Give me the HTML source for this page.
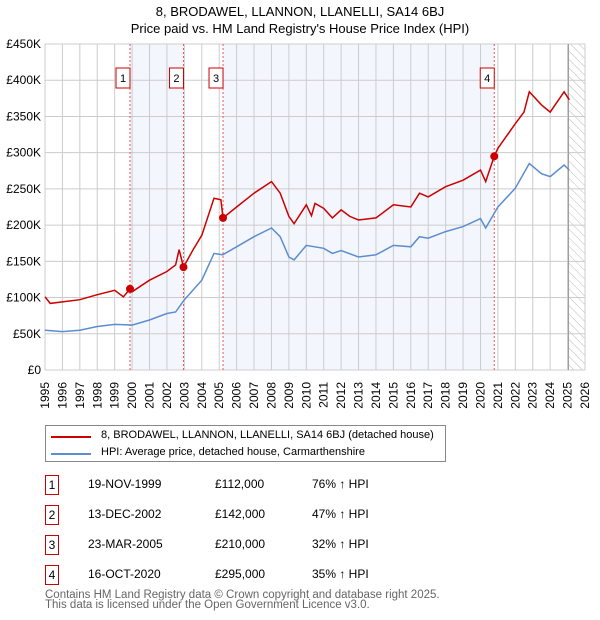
<!DOCTYPE html>
<html><head><meta charset="utf-8"><style>
body{margin:0;background:#fff;font-family:"Liberation Sans","DejaVu Sans",sans-serif}
#wrap{position:relative;width:600px;height:620px}
.t{position:absolute;font-size:13px;color:#000}
.row{position:absolute;font-size:12px;color:#000}
.bx{position:absolute;width:14px;height:20px;border:1px solid #c00;font-size:12px;text-align:center;line-height:18px;box-sizing:border-box}
</style></head><body><div id="wrap">
<div class="t" style="left:0;width:600px;text-align:center;top:3px;line-height:17px">8, BRODAWEL, LLANNON, LLANELLI, SA14 6BJ<br>Price paid vs. HM Land Registry's House Price Index (HPI)</div>
<svg id="ch" width="600" height="420" style="position:absolute;left:0;top:0"></svg>
<div style="position:absolute;left:45px;top:425px;width:401px;height:37px;border:1px solid #888;box-sizing:border-box;font-size:11px">
<div style="position:absolute;left:5px;top:10px;width:40px;height:2px;background:#c00"></div>
<div style="position:absolute;left:55px;top:3px;white-space:nowrap">8, BRODAWEL, LLANNON, LLANELLI, SA14 6BJ (detached house)</div>
<div style="position:absolute;left:5px;top:27px;width:40px;height:2px;background:#5b8dd0"></div>
<div style="position:absolute;left:55px;top:20px;white-space:nowrap">HPI: Average price, detached house, Carmarthenshire</div>
</div>
<div id="tbl"></div>
<div style="position:absolute;left:45px;top:590px;font-size:11.5px;color:#666;line-height:10px">Contains HM Land Registry data © Crown copyright and database right 2025.<br>This data is licensed under the Open Government Licence v3.0.</div>
</div>
<script>
const hpiYears=[1995,1996,1997,1998,1999,2000,2001,2002,2002.5,2003,2004,2004.7,2005.2,2006,2007,2008,2008.5,2009,2009.3,2010,2011,2011.5,2012,2013,2014,2015,2016,2016.5,2017,2018,2019,2020,2020.3,2021,2022,2022.8,2023.5,2024,2024.8,2025.1];
const hpiValues=[55,53,55,60,63,62,69,78,80,97,124,161,159,170,184,196,184,156,152,172,168,161,165,156,159,172,170,184,182,191,198,209,196,225,251,285,271,267,283,276];
const propYears=[1995,1995.3,1996,1997,1998,1999,1999.5,1999.88,2000,2001,2002,2002.5,2002.7,2002.95,2003.5,2004,2004.7,2005.1,2005.22,2006,2007,2008,2008.5,2009,2009.3,2010,2010.3,2010.5,2011,2011.5,2012,2012.5,2013,2014,2015,2016,2016.5,2017,2018,2019,2020,2020.3,2020.79,2021,2022,2022.5,2022.8,2023.5,2024,2024.8,2025.1];
const propValues=[101,92,94,97,104,110,101,112,108,124,136,145,166,142,166,186,237,235,210,225,244,260,244,212,202,228,213,230,223,210,221,212,207,210,228,225,244,239,253,262,276,260,295,306,340,356,384,366,356,384,373];
const saleLabels=["1","2","3","4"];
const saleYears=[1999.88,2002.95,2005.22,2020.79];
const saleValues=[112,142,210,295];
const saleDates=["19-NOV-1999","13-DEC-2002","23-MAR-2005","16-OCT-2020"];
const salePrices=["£112,000","£142,000","£210,000","£295,000"];
const saleHpi=["76% ↑ HPI","47% ↑ HPI","32% ↑ HPI","35% ↑ HPI"];
const yTicks=[0,50,100,150,200,250,300,350,400,450];
const yTickLabels=["£0","£50K","£100K","£150K","£200K","£250K","£300K","£350K","£400K","£450K"];
const xStart=1995,xEnd=2026,futureStart=2025.05;
const X=y=>45+(y-xStart)*(540/(xEnd-xStart));
const Y=v=>370-v*(326/450);
const s=document.getElementById('ch');const NS='http://www.w3.org/2000/svg';
function mk(t,a,p){const e=document.createElementNS(NS,t);for(const k in a)e.setAttribute(k,a[k]);(p||s).appendChild(e);return e;}
const defs=mk('defs',{});const pat=mk('pattern',{id:'h',width:6,height:6,patternUnits:'userSpaceOnUse',patternTransform:'rotate(-45)'},defs);
mk('line',{x1:0,y1:0,x2:0,y2:6,stroke:'#bbb','stroke-width':1},pat);
let r=mk('rect',{x:X(saleYears[0]),y:Y(450),width:X(saleYears[1])-X(saleYears[0]),height:Y(0)-Y(450),fill:'#eef3fc',opacity:0.7});

r=mk('rect',{x:X(saleYears[2]),y:Y(450),width:X(saleYears[3])-X(saleYears[2]),height:Y(0)-Y(450),fill:'#eef3fc',opacity:0.7});

r=mk('rect',{x:X(futureStart),y:Y(450),width:X(xEnd)-X(futureStart),height:Y(0)-Y(450),fill:'url(#h)'});

for(let y=xStart;y<=xEnd;y++){const l=mk('line',{x1:X(y),x2:X(y),y1:Y(450),y2:Y(0),stroke:'#ccc'});

const t=mk('text',{x:0,y:0,transform:`translate(${(X(y)+4).toFixed(1)},${Y(0)+12}) rotate(-90)`,'text-anchor':'end','font-size':12});t.textContent=y;
}
yTicks.forEach((v,i)=>{const l=mk('line',{x1:X(xStart),x2:X(xEnd),y1:Y(v),y2:Y(v),stroke:'#ccc'});

const t=mk('text',{x:41,y:Y(v)+4,'text-anchor':'end','font-size':12});t.textContent=yTickLabels[i];
});
let fl=mk('line',{x1:X(futureStart),x2:X(futureStart),y1:Y(450),y2:Y(0),stroke:'#999'});

saleYears.forEach((yr,i)=>{const l=mk('line',{x1:X(yr),x2:X(yr),y1:Y(450),y2:Y(0),stroke:'#e55','stroke-dasharray':'2,2'});

const b=mk('rect',{x:X(yr)-14,y:68,width:14,height:20,fill:'#fff',stroke:'#c00'});

const t=mk('text',{x:X(yr)-7,y:82,'text-anchor':'middle','font-size':11});t.textContent=saleLabels[i];
});
const pts=(xs,vs)=>xs.map((x,i)=>X(x).toFixed(1)+','+Y(vs[i]).toFixed(1)).join(' ');
let p=mk('polyline',{points:pts(hpiYears,hpiValues),fill:'none',stroke:'#5b8dd0','stroke-width':1.5});

p=mk('polyline',{points:pts(propYears,propValues),fill:'none',stroke:'#c00','stroke-width':1.5});

saleYears.forEach((yr,i)=>{const c=mk('circle',{cx:X(yr),cy:Y(saleValues[i]),r:4,fill:'#c00'});
});
const tb=document.getElementById('tbl');
saleLabels.forEach((lb,i)=>{const top=475+i*30;
const b=document.createElement('div');b.className='bx';b.style.left='45px';b.style.top=top+'px';b.textContent=lb;

tb.appendChild(b);
[[88,saleDates[i],'table-date'],[215,salePrices[i],'table-price'],[312,saleHpi[i],'table-hpi']].forEach(([x,tx,n])=>{
const d=document.createElement('div');d.className='row';d.style.left=x+'px';d.style.top=(top+2)+'px';d.textContent=tx;

tb.appendChild(d);});});
</script></body></html>
